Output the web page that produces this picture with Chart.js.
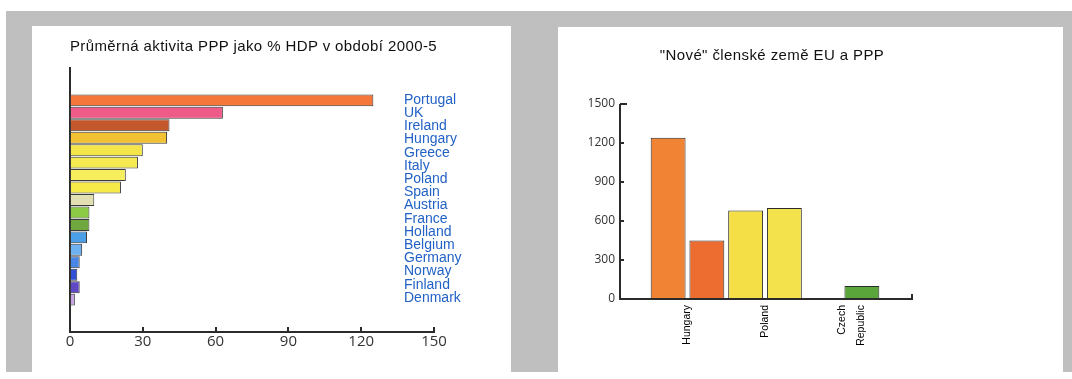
<!DOCTYPE html>
<html lang="cs">
<head>
<meta charset="utf-8">
<title>PPP v EU</title>
<script src="https://cdn.jsdelivr.net/npm/chart.js@4.4.1/dist/chart.umd.min.js"></script>
<style>
  html, body { margin: 0; padding: 0; background: #fff; }
  body { width: 1072px; height: 379px; position: relative; overflow: hidden; font-family: "Liberation Sans", Arial, sans-serif; }
  .frame { position: absolute; left: 6px; top: 11px; width: 1066px; height: 361px; background: #bfbfbf; }
  .panel { position: absolute; background: #fff; }
  #left { left: 32px; top: 26px; width: 479px; height: 346px; }
  #right { left: 558px; top: 27px; width: 505px; height: 345px; }
  .title { position: absolute; text-align: center; font-size: 15px; letter-spacing: 0.4px; color: #111; line-height: 20px; white-space: nowrap; }
  #left .title { left: 0; top: 10px; width: 443px; }
  #right .title { left: 0; top: 18px; width: 428px; }
  canvas { position: absolute; left: 0; top: 0; }
</style>
</head>
<body>
<div class="frame"></div>
<div class="panel" id="left">
  <canvas id="activity-chart" width="479" height="346"></canvas>
  <div class="title">Průměrná aktivita PPP jako % HDP v období 2000-5</div>
</div>
<div class="panel" id="right">
  <canvas id="members-chart" width="505" height="345"></canvas>
  <div class="title">"Nové" členské země EU a PPP</div>
</div>

<script>
// Average PPP activity as % of GDP, 2000-2005
const countries = ['Portugal', 'UK', 'Ireland', 'Hungary', 'Greece', 'Italy', 'Poland', 'Spain',
  'Austria', 'France', 'Holland', 'Belgium', 'Germany', 'Norway', 'Finland', 'Denmark'];
const activity = [125, 63, 41, 40, 30, 28, 23, 21, 10, 8, 8, 7, 5, 4, 3, 4, 2];
const activityColors = ['#f5773a', '#ee5b88', '#c4572b', '#f2c134', '#f4e54a', '#f6ea52', '#f7ee5e', '#f5ea48',
  '#e2e0b2', '#8ccb46', '#6ea83e', '#4a9fe6', '#6eb2f2', '#4a86e6', '#3050d6', '#6048c4', '#c8a2e2'];
const activityTicks = [0, 30, 60, 90, 120, 150];

// "New" EU member states
const newMembers = ['Hungary', 'Poland', ['Czech', 'Republic']];
const projectsA = [1240, 680, null];
const projectsB = [450, 700, 100];
const membersColorsA = ['#f18334', '#f4e046', '#5aa63a'];
const membersColorsB = ['#ed6d31', '#f4e24c', '#5aa63a'];
const memberTicks = [0, 300, 600, 900, 1200, 1500];

const axisColor = '#2b2b2b';
const tickFont = { family: '"Open Sans", sans-serif', size: 15 };

// small upward tick marks on the value axis
const upTicks = {
  id: 'upTicks',
  afterDraw(chart) {
    const { ctx } = chart;
    const x = chart.scales.x;
    ctx.save();
    ctx.strokeStyle = axisColor;
    ctx.lineWidth = 2;
    ctx.beginPath();
    x.ticks.forEach(t => {
      const px = Math.round(x.getPixelForValue(t.value));
      ctx.moveTo(px, x.top);
      ctx.lineTo(px, x.top - 5);
    });
    ctx.stroke();
    ctx.restore();
  }
};

// country names listed at the right of the bars
const countryList = {
  id: 'countryList',
  afterDraw(chart, args, opts) {
    const { ctx, chartArea } = chart;
    ctx.save();
    ctx.font = '14px "Liberation Sans", Arial, sans-serif';
    ctx.fillStyle = '#2262c6';
    ctx.textBaseline = 'middle';
    opts.labels.forEach((name, i) => {
      ctx.fillText(name, chartArea.right - 30, chartArea.top + 32 + i * 13.2);
    });
    ctx.restore();
  }
};

// axis lines reaching past the bar area
const memberAxes = {
  id: 'memberAxes',
  afterDraw(chart, args, opts) {
    const { ctx, chartArea } = chart;
    const y = chart.scales.y;
    const axisX = Math.round(chartArea.left - opts.leftGap);
    const baseY = Math.round(y.getPixelForValue(0));
    const endX = Math.round(chartArea.right + opts.rightGap);
    ctx.save();
    ctx.strokeStyle = axisColor;
    ctx.lineWidth = 2;
    ctx.beginPath();
    ctx.moveTo(axisX, Math.round(y.getPixelForValue(y.max)));
    ctx.lineTo(axisX, baseY);
    ctx.lineTo(endX, baseY);
    ctx.lineTo(endX, baseY - 5);
    y.ticks.forEach(t => {
      const py = Math.round(y.getPixelForValue(t.value));
      ctx.moveTo(axisX, py);
      ctx.lineTo(axisX + (t.value === y.max ? 7 : 4), py);
    });
    ctx.stroke();
    ctx.restore();
  }
};

new Chart(document.getElementById('activity-chart'), {
  type: 'bar',
  data: {
    datasets: [{
      data: activity.map((v, i) => ({ x: v, y: i })),
      backgroundColor: activityColors,
      borderColor: '#3a3a3a',
      borderWidth: 1,
      borderSkipped: false,
      barPercentage: 0.96,
      categoryPercentage: 1
    }]
  },
  options: {
    indexAxis: 'y',
    responsive: false,
    animation: false,
    layout: { padding: { left: 38, top: 42, right: 77, bottom: 0 } },
    plugins: {
      legend: { display: false },
      tooltip: { enabled: false },
      countryList: { labels: countries }
    },
    scales: {
      x: {
        type: 'linear',
        min: 0,
        max: 150,
        afterBuildTicks: s => { s.ticks = activityTicks.map(v => ({ value: v })); },
        afterFit: s => { s.height = 40; },
        grid: { display: false, drawTicks: false },
        border: { display: true, color: axisColor, width: 2 },
        ticks: { padding: 1, color: '#333', font: tickFont }
      },
      y: {
        type: 'linear',
        reverse: true,
        offset: false,
        min: -2.6,
        max: 18.6,
        afterBuildTicks: s => { s.ticks = activity.map((v, i) => ({ value: i })); },
        afterFit: s => { s.width = 0; },
        grid: { display: false, drawTicks: false },
        border: { display: true, color: axisColor, width: 2 },
        ticks: { display: false }
      }
    }
  },
  plugins: [upTicks, countryList]
});

new Chart(document.getElementById('members-chart'), {
  type: 'bar',
  data: {
    labels: newMembers,
    datasets: [
      { data: projectsA, backgroundColor: membersColorsA },
      { data: projectsB, backgroundColor: membersColorsB }
    ]
  },
  options: {
    responsive: false,
    animation: false,
    layout: { padding: { left: 30.75, top: 77, right: 181.75, bottom: 13 } },
    datasets: {
      bar: { categoryPercentage: 1, barPercentage: 0.9, borderWidth: 1, borderColor: '#2a2a2a', borderSkipped: false }
    },
    plugins: {
      legend: { display: false },
      tooltip: { enabled: false },
      memberAxes: { leftGap: 28.75, rightGap: 30.75 }
    },
    scales: {
      x: {
        offset: true,
        afterFit: s => { s.height = 60; },
        grid: { display: false, drawTicks: false },
        border: { display: false },
        ticks: {
          autoSkip: false,
          minRotation: 90,
          maxRotation: 90,
          padding: 6,
          color: '#000',
          font: { family: '"Liberation Sans", Arial, sans-serif', size: 10.5, lineHeight: '19px' }
        }
      },
      y: {
        min: 0,
        max: 1500,
        afterBuildTicks: s => { s.ticks = memberTicks.map(v => ({ value: v })); },
        afterFit: s => { s.width = 60; },
        grid: { display: false, drawTicks: false },
        border: { display: false },
        ticks: {
          padding: 33.75,
          color: '#333',
          font: { family: '"Open Sans", sans-serif', size: 12 },
          callback: v => String(v)
        }
      }
    }
  },
  plugins: [memberAxes]
});
</script>
</body>
</html>
